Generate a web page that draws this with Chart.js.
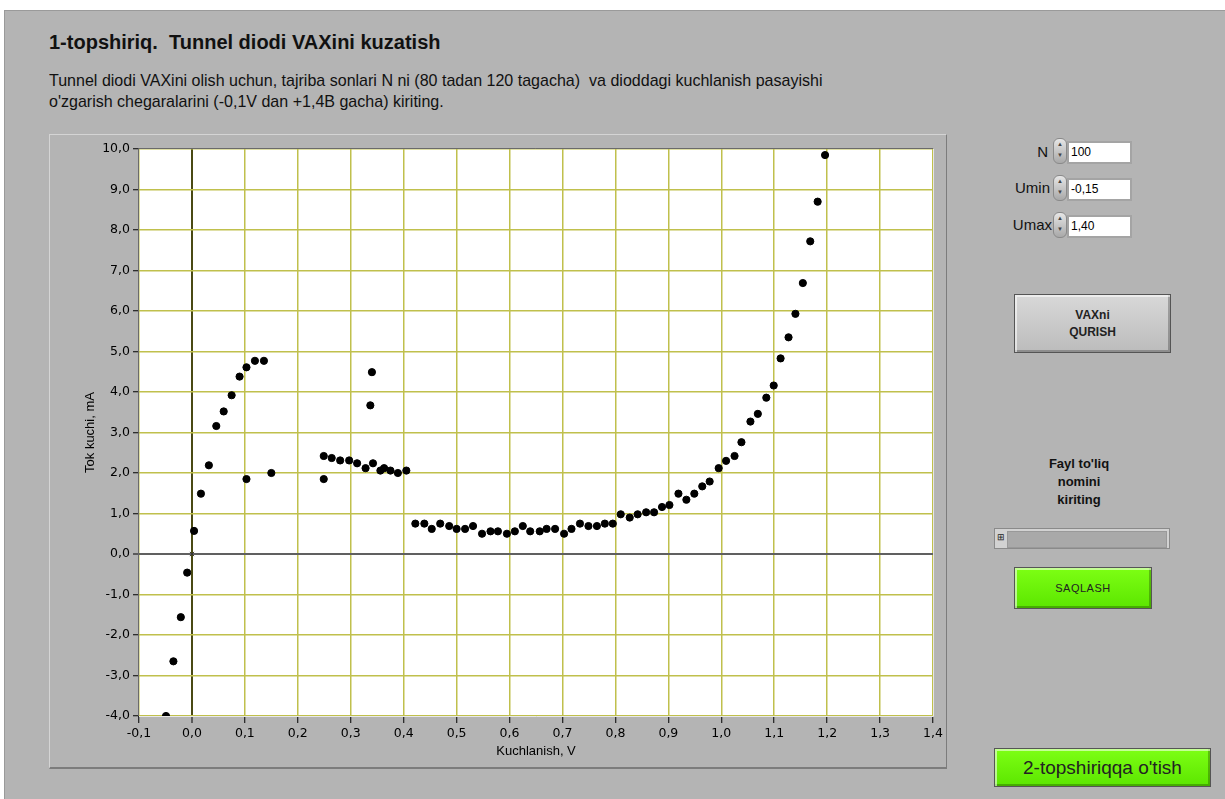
<!DOCTYPE html>
<html>
<head>
  <title>Tunnel diodi VAX</title>
  <script src="https://cdn.jsdelivr.net/npm/chart.js@4.4.1/dist/chart.umd.min.js"></script>
  <style>
    body {
      margin: 0;
      background: #fff;
      font-family: "Liberation Sans", Arial, sans-serif;
      width: 1225px;
      height: 799px;
      overflow: hidden;
    }
    #panel {
      position: absolute;
      left: 4px; top: 10px;
      width: 1221px; height: 789px;
      background: #b4b4b4;
      border-top: 1px solid #9a9a9a;
      border-left: 1px solid #9a9a9a;
    }
    .abs { position: absolute; }
    #title {
      left: 44px; top: 20px;
      font-size: 20px; font-weight: bold; color: #111;
    }
    #note {
      left: 44px; top: 59px;
      font-size: 17px; line-height: 21px; color: #111;
      transform: scaleX(0.943); transform-origin: left;
      white-space: nowrap;
    }
    #frame {
      left: 44px; top: 123px;
      width: 896px; height: 632px;
      border-top: 1px solid #d4d4d4;
      border-left: 1px solid #d4d4d4;
      border-right: 1px solid #7c7c7c;
      border-bottom: 2px solid #7c7c7c;
    }
    .lbl { font-size: 15px; color: #111; text-align: right; width: 60px; }
    .spin {
      width: 12px; height: 24px; border-radius: 6px;
      background: linear-gradient(#e6e6e6, #a8a8a8);
      border: 1px solid #8a8a8a;
      font-size: 6px; line-height: 11px; text-align: center; color: #444;
    }
    .box {
      width: 59px; height: 19px; background: #fff;
      border: 2px solid #a4a4a4; box-sizing: content-box;
      font-size: 12px; line-height: 19px; padding-left: 2px; color: #000;
    }
    .btn {
      box-sizing: border-box; text-align: center;
      border: 1px solid #555;
      box-shadow: inset 2px 2px 0 rgba(255,255,255,0.55), inset -2px -2px 0 rgba(0,0,0,0.25);
    }
  </style>
</head>
<body>
  <div id="panel">
    <div id="title" class="abs">1-topshiriq.&nbsp; Tunnel diodi VAXini kuzatish</div>
    <div id="note" class="abs">Tunnel diodi VAXini olish uchun, tajriba sonlari N ni (80 tadan 120 tagacha)&nbsp; va dioddagi kuchlanish pasayishi<br>o'zgarish chegaralarini (-0,1V dan +1,4B gacha) kiriting.</div>
    <div id="frame" class="abs">
      <canvas id="chart" width="896" height="632"></canvas>
    </div>

    <div class="abs lbl" style="left:983px; top:132px;">N</div>
    <div class="abs spin" style="left:1048px; top:127px;">▲<br>▼</div>
    <div class="abs box" style="left:1062px; top:130px;">100</div>

    <div class="abs lbl" style="left:985px; top:168px;">Umin</div>
    <div class="abs spin" style="left:1048px; top:164px;">▲<br>▼</div>
    <div class="abs box" style="left:1062px; top:167px;">-0,15</div>

    <div class="abs lbl" style="left:987px; top:205px;">Umax</div>
    <div class="abs spin" style="left:1048px; top:201px;">▲<br>▼</div>
    <div class="abs box" style="left:1062px; top:204px;">1,40</div>

    <div class="abs btn" style="left:1009px; top:283px; width:157px; height:59px; background:linear-gradient(#d8d8d8,#bcbcbc); font-size:12px; font-weight:bold; line-height:17px; padding-top:12px; color:#222;">VAXni<br>QURISH</div>

    <div class="abs" style="left:1004px; top:444px; width:140px; text-align:center; font-size:13px; font-weight:bold; line-height:18px; color:#111;">Fayl to'liq<br>nomini<br>kiriting</div>

    <div class="abs" style="left:989px; top:517px; width:176px; height:21px; box-sizing:border-box; background:#d2d2d2; border:1px solid #8a8a8a;">
      <div class="abs" style="left:2px; top:4px; font-size:9px; line-height:9px; color:#222;">⊞</div>
      <div class="abs" style="left:12px; top:2px; width:158px; height:15px; background:#a9a9a9; border:1px solid #999;"></div>
    </div>

    <div class="abs btn" style="left:1009px; top:556px; width:138px; height:42px; background:linear-gradient(#7dff14,#5ce600); font-size:11px; line-height:40px; letter-spacing:0.5px; color:#222;">SAQLASH</div>

    <div class="abs btn" style="left:989px; top:737px; width:217px; height:39px; background:linear-gradient(#7dff14,#5ce600); font-size:19px; line-height:37px; color:#222;">2-topshiriqqa o'tish</div>
  </div>

  <script>
    // measured points, voltage in V, current in mA
    var voltage = [-0.049, -0.035, -0.021, -0.009, 0.004, 0.017, 0.032, 0.046, 0.060, 0.075,
      0.090, 0.103, 0.103, 0.119, 0.136, 0.150,
      0.249, 0.249, 0.264, 0.280, 0.297, 0.312, 0.328, 0.337, 0.340, 0.342, 0.356, 0.363, 0.375, 0.389, 0.405,
      0.422, 0.439, 0.453, 0.469, 0.486, 0.500, 0.516, 0.531, 0.548, 0.564, 0.578, 0.595, 0.610, 0.625,
      0.639, 0.657, 0.670, 0.686, 0.703, 0.717, 0.733, 0.749, 0.765, 0.780, 0.795,
      0.810, 0.827, 0.842, 0.858, 0.873, 0.888, 0.902, 0.919, 0.934, 0.949, 0.964, 0.978,
      0.995, 1.009, 1.025, 1.038, 1.055, 1.069, 1.085, 1.099, 1.112, 1.127, 1.140, 1.154,
      1.168, 1.182, 1.196];
    var current = [-4.00, -2.65, -1.56, -0.46, 0.57, 1.49, 2.19, 3.16, 3.52, 3.92,
      4.38, 4.61, 1.85, 4.77, 4.77, 2.00,
      2.42, 1.85, 2.37, 2.31, 2.31, 2.24, 2.12, 3.67, 4.49, 2.24, 2.06, 2.12, 2.06, 2.00, 2.06,
      0.75, 0.75, 0.62, 0.75, 0.69, 0.62, 0.62, 0.69, 0.50, 0.56, 0.56, 0.50, 0.56, 0.69,
      0.56, 0.56, 0.62, 0.62, 0.50, 0.62, 0.75, 0.69, 0.69, 0.75, 0.75,
      0.98, 0.90, 0.98, 1.03, 1.03, 1.16, 1.21, 1.49, 1.34, 1.49, 1.67, 1.79,
      2.12, 2.30, 2.42, 2.76, 3.27, 3.46, 3.86, 4.16, 4.83, 5.35, 5.93, 6.69,
      7.72, 8.70, 9.85];
    var cursorPoint = [{ x: 0, y: 0 }];

    var xMin = -0.1, xMax = 1.4, xStep = 0.1;
    var yMin = -4, yMax = 10, yStep = 1;

    var points = [];
    for (var i = 0; i < voltage.length; i++) {
      points.push({ x: voltage[i], y: current[i] });
    }

    function commaLabel(v) {
      if (Math.abs(v) < 1e-9) v = 0;
      return v.toFixed(1).replace('.', ',');
    }

    // white plot area with an inset border
    var plotBack = {
      id: 'plotBack',
      beforeDraw: function(chart) {
        var a = chart.chartArea, ctx = chart.ctx;
        ctx.save();
        ctx.fillStyle = '#ffffff';
        ctx.fillRect(a.left, a.top, a.right - a.left, a.bottom - a.top);
        ctx.restore();
      },
      afterDatasetsDraw: function(chart) {
        var a = chart.chartArea, ctx = chart.ctx;
        ctx.save();
        ctx.lineWidth = 1;
        ctx.strokeStyle = '#6a6a6a';
        ctx.beginPath();
        ctx.moveTo(a.left - 0.5, a.bottom);
        ctx.lineTo(a.left - 0.5, a.top - 0.5);
        ctx.lineTo(a.right, a.top - 0.5);
        ctx.stroke();
        ctx.strokeStyle = '#e8e8e8';
        ctx.beginPath();
        ctx.moveTo(a.right + 0.5, a.top);
        ctx.lineTo(a.right + 0.5, a.bottom + 0.5);
        ctx.lineTo(a.left, a.bottom + 0.5);
        ctx.stroke();
        ctx.restore();
      }
    };

    var tickFont = { family: 'DejaVu Sans', size: 12.5 };
    var titleFont = { family: 'Liberation Sans', size: 13 };

    var ctx = document.getElementById('chart').getContext('2d');
    new Chart(ctx, {
      type: 'scatter',
      data: {
        datasets: [{
          data: points,
          backgroundColor: '#000',
          borderColor: '#000',
          pointRadius: 3.6,
          pointHoverRadius: 3.6
        }, {
          data: cursorPoint,
          pointStyle: 'crossRot',
          borderColor: '#333',
          borderWidth: 1,
          pointRadius: 3
        }]
      },
      options: {
        responsive: false,
        animation: false,
        events: [],
        layout: { padding: { left: 0, top: 14, right: 7, bottom: 0 } },
        plugins: { legend: { display: false }, tooltip: { enabled: false } },
        scales: {
          x: {
            type: 'linear',
            min: xMin, max: xMax,
            afterFit: function(s) { s.height = 51; },
            afterBuildTicks: function(s) {
              var t = [];
              for (var v = xMin; v <= xMax + 1e-9; v += xStep) t.push({ value: Math.round(v * 10) / 10 });
              s.ticks = t;
            },
            ticks: {
              color: '#000',
              font: tickFont,
              padding: 3,
              maxRotation: 0,
              autoSkip: false,
              callback: function(v) { return commaLabel(v); }
            },
            grid: {
              color: function(c) {
                if (c.tick && Math.abs(c.tick.value) < 1e-9) return '#4a4a14';
                return '#c0c04c';
              },
              lineWidth: function(c) {
                if (c.tick && Math.abs(c.tick.value) < 1e-9) return 2;
                return 1.5;
              },
              tickColor: '#000',
              tickLength: 7,
              tickWidth: 1
            },
            border: { display: false },
            title: {
              display: true,
              text: 'Kuchlanish, V',
              color: '#000',
              font: titleFont,
              padding: { top: 0, bottom: 8 }
            }
          },
          y: {
            type: 'linear',
            min: yMin, max: yMax,
            afterFit: function(s) { s.width = 89; },
            afterBuildTicks: function(s) {
              var t = [];
              for (var v = yMin; v <= yMax; v += yStep) t.push({ value: v });
              s.ticks = t;
            },
            ticks: {
              color: '#000',
              font: tickFont,
              padding: 3,
              autoSkip: false,
              callback: function(v) { return commaLabel(v); }
            },
            grid: {
              color: function(c) {
                if (c.tick && Math.abs(c.tick.value) < 1e-9) return '#606060';
                return '#c0c04c';
              },
              lineWidth: function(c) {
                if (c.tick && Math.abs(c.tick.value) < 1e-9) return 2;
                return 1.5;
              },
              tickColor: '#000',
              tickLength: 6,
              tickWidth: 1
            },
            border: { display: false },
            title: {
              display: true,
              text: 'Tok kuchi, mA',
              color: '#000',
              font: titleFont,
              padding: { top: 33, bottom: 0 }
            }
          }
        }
      },
      plugins: [plotBack]
    });
  </script>
</body>
</html>
